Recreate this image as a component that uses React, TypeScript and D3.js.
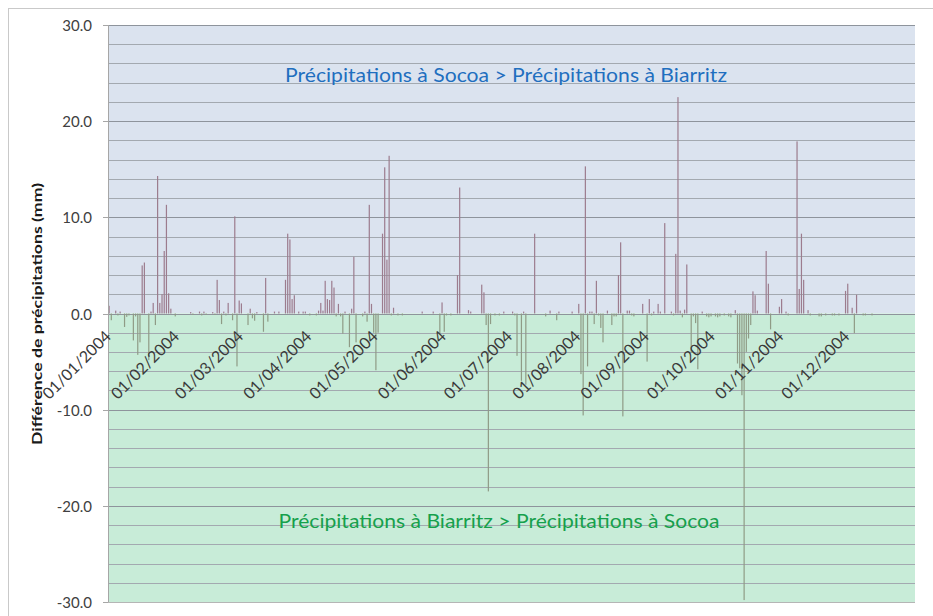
import React from 'react';
import * as d3 from 'd3';

// daily difference Socoa - Biarritz (mm), one array per month of 2004
const jan = [0.8, -0.7, 0, 0.3, -0.2, 0.2, 0, -1.4, -0.35, -0.2, 0, -2.8, -0.3, -4.3, -3.0, 5.0, 5.3, 0, -4.85, 0.2, 1.1, -1.2, 14.3, 1.1, 2.0, 6.5, 11.3, 2.1, 0.5, 0, -0.3];
const feb = [0, 0, 0, 0, 0, 0, 0.15, -0.15, 0, 0, 0.2, -0.2, 0.2, -0.15, 0, 0, 0.15, -0.15, 3.5, 1.4, -1.1, 0.2, -0.2, 1.1, 0, -0.7, 10.1, -5.5, 1.35];
const mar = [1.05, 0, 0, -1.2, 0.5, -0.5, -0.75, 0.15, 0, 0, -1.9, 3.7, -0.85, 0, 0, 0.2, 0, 0.2, 0, 0, 3.5, 8.3, 7.7, 1.5, 1.9, 0, 0.2, 0, 0.2, 0.2, 0];
const apr = [-0.2, 0, 0, -0.2, 0.3, 1.1, 0.3, 3.4, 1.5, 1.4, 3.4, 2.7, -0.3, 1.0, -0.3, -2.1, 0.2, 0, -3.5, 0.5, 5.9, -3.0, 0, 0, -0.3, 0.2, -0.85, 11.3, 1.0, -2.0];
const may = [-5.9, -2.0, 0, 8.3, 15.2, 5.6, 16.4, -0.2, 0.6, 0, -0.2, 0, -0.2, 0, 0, 0, 0, 0, 0, 0, 0, 0.2, 0, 0, 0, 0, 0.2, 0, 0, -2.2, 1.15];
const jun = [-1.9, -0.2, 0, -0.2, 0, 0, 4.0, 13.1, 0, 0, 0, 0.35, 0.2, 0, 0, 0, 0, 3.0, 2.2, -1.2, -18.5, -1.1, 0, -0.2, 0, -0.2, 0, 0.2, 0, 0];
const jul = [0, 0.2, -0.2, -4.4, 0, -7.0, 0.2, -7.4, 0, 0, 0, 8.3, 0, 0, 0, 0, -0.3, 0, 0.3, 0, 0, -0.7, 0.2, 0, 0, 0, 0, 0, 0.2, 0, 0];
const aug = [1.0, -6.3, -10.6, 15.3, -5.5, 0.2, 0.2, -1.1, 3.4, -0.2, -1.5, -3.0, 0, 0.3, 0, -1.2, -0.3, -0.3, 4.0, 7.4, -10.7, 0, 0.3, 0.3, -0.2, -0.3, 0, 0, 0, 1.0, 0];
const sep = [-5.0, 1.5, -0.2, 0.2, 0, 1.0, 0.2, 0, 9.4, 0, 0, 0.2, -0.2, 6.2, 22.5, 0.3, -0.4, 0.4, 5.1, 0, -4.1, -0.3, -1.0, -5.8, 0, 0.2, 0, -0.3, -0.4, -0.3];
const oct = [0, -0.3, -0.4, -0.3, 0, -0.2, 0, -0.3, -0.4, 0, 0.35, -5.2, -5.7, -8.5, -29.8, -4.0, -2.6, -1.2, 2.3, 1.9, 0.3, 0, 0, 0, 6.5, 3.1, -1.65, 0, 0, 0, 0.7];
const nov = [1.5, 0, 0.2, -0.2, 0, 0, 0, 17.9, 2.55, 8.3, 3.5, 0, 0.35, -0.2, 0, 0, 0, -0.3, -0.3, 0, -0.2, 0, 0, -0.2, -0.2, 0, -0.2, 0, 0, 2.35];
const dec = [3.1, 0, 0.6, -2.05, 1.95, 0, 0, -0.2, -0.2, 0, 0, -0.2, 0, 0, 0, 0, 0, 0, 0, 0, 0, 0, 0, 0, 0, 0, 0, 0, 0, 0, 0];

const monthLabels = ['01/01/2004', '01/02/2004', '01/03/2004', '01/04/2004', '01/05/2004', '01/06/2004',
  '01/07/2004', '01/08/2004', '01/09/2004', '01/10/2004', '01/11/2004', '01/12/2004'];
const yTickValues = [30, 20, 10, 0, -10, -20, -30];

const topText = 'Précipitations à Socoa > Précipitations à Biarritz';
const bottomText = 'Précipitations à Biarritz > Précipitations à Socoa';
const yTitle = 'Différence de précipitations (mm)';

const months = [jan, feb, mar, apr, may, jun, jul, aug, sep, oct, nov, dec];
const values = months.flat();
const monthStarts = [0, ...Array.from(d3.cumsum(months, (m) => m.length))].slice(0, 12);

const W = 933;
const H = 616;
const left = 108;
const right = 915;
const top = 25;
const bottom = 602;
const font = 'Lato, "Open Sans", sans-serif';

export default function App() {
  const x = d3.scaleLinear().domain([0, values.length]).range([left, right]);
  const y = d3.scaleLinear().domain([-30, 30]).range([bottom, top]);
  const fmt = (t: number) => t.toFixed(1); // plain hyphen like the original
  const grid = y.ticks(30);
  const barW = 1.2;
  const y0 = y(0);

  return (
    <svg width={W} height={H} style={{ position: 'absolute', left: 0, top: 0, background: '#fff' }}>
      <rect x={8.5} y={8.5} width={940} height={640} fill="#fff" stroke="#c9c9c9" />
      <rect x={left} y={top} width={right - left} height={y0 - top} fill="#dbe3ef" />
      <rect x={left} y={y0} width={right - left} height={bottom - y0} fill="#c8ecd8" />

      {grid.map((t) => (
        <line key={t} x1={left} x2={right} y1={Math.round(y(t)) + 0.5} y2={Math.round(y(t)) + 0.5}
          stroke={t % 10 === 0 ? '#8e949c' : '#a3a9b0'} strokeWidth={1} />
      ))}

      {values.map((v, i) =>
        v === 0 ? null : (
          <rect key={i} x={x(i + 0.5) - barW / 2} width={barW}
            y={Math.min(y(v), y0)} height={Math.abs(y(v) - y0)}
            fill={v > 0 ? '#9c7c8e' : '#8f9b86'} />
        ),
      )}

      <line x1={left + 0.5} x2={left + 0.5} y1={top} y2={bottom} stroke="#a6a6a6" />
      <line x1={left} x2={right} y1={bottom + 0.5} y2={bottom + 0.5} stroke="#b5b5b5" />

      {yTickValues.map((t) => (
        <g key={t} transform={`translate(0,${Math.round(y(t)) + 0.5})`}>
          <line x1={103} x2={left} stroke="#a6a6a6" />
          <text x={92} dy="0.35em" textAnchor="end" fontFamily={font} fontSize={15} fill="#404040">
            {fmt(t)}
          </text>
        </g>
      ))}

      {monthStarts.map((d, i) => (
        <text key={monthLabels[i]} transform={`translate(${x(d) + 4},${y0 + 24}) rotate(-45)`}
          textAnchor="end" fontFamily={font} fontSize={16} fill="#3a3a3a">
          {monthLabels[i]}
        </text>
      ))}

      <text x={506} y={82} textAnchor="middle" fontFamily={font} fontSize={19} fill="#1f6fbf"
        textLength={442} lengthAdjust="spacingAndGlyphs">
        {topText}
      </text>
      <text x={499} y={528} textAnchor="middle" fontFamily={font} fontSize={19} fill="#16a04c"
        textLength={441} lengthAdjust="spacingAndGlyphs">
        {bottomText}
      </text>

      <text transform={`translate(42,${314}) rotate(-90)`} textAnchor="middle" fontFamily={font}
        fontSize={14} fontWeight="bold" fill="#1a1a1a" textLength={262} lengthAdjust="spacingAndGlyphs">
        {yTitle}
      </text>
    </svg>
  );
}
